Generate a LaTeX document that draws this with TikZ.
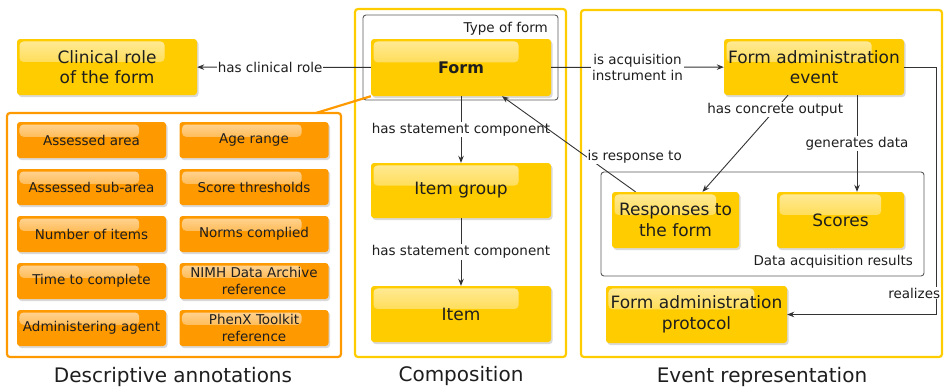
\documentclass[tikz,border=0pt]{standalone}
\usepackage{fontspec}
\setmainfont{DejaVu Sans}
\usepackage{xcolor}
\usepackage{tikz}
\usetikzlibrary{arrows.meta,shadows,calc,fadings}
\definecolor{formyellow}{HTML}{FFCC00}
\definecolor{annotorange}{HTML}{FF9900}
\definecolor{framegray}{HTML}{5A5A5A}
\definecolor{linkgray}{HTML}{333333}
\definecolor{textdark}{HTML}{1E1E1E}
\tikzset{gloss/.style={path picture={\fill[white,opacity=.6,path fading=south,rounded corners=4pt] ([shift={(2.5pt,-2.5pt)}]path picture bounding box.north west) rectangle ($(path picture bounding box.north west)!.82!(path picture bounding box.east)$);}}}

\begin{document}
\begin{tikzpicture}[x=1pt,y=-1pt,
	box/.style={rectangle,rounded corners=3pt,fill=formyellow,text=textdark,align=center,inner sep=2pt,
		font=\fontsize{17}{20.5}\selectfont,drop shadow={shadow xshift=1.5pt,shadow yshift=-2pt,opacity=.3},gloss},
	annot/.style={box,fill=annotorange,minimum width=149,minimum height=36,font=\fontsize{13.5}{16.5}\selectfont},
	panel/.style={draw=formyellow,line width=2.2pt,rounded corners=3pt},
	group/.style={draw=framegray,line width=.9pt,rounded corners=3pt},
	lbl/.style={fill=white,inner sep=1pt,text=textdark,align=center,font=\fontsize{13.5}{16}\selectfont},
	title/.style={text=textdark,font=\fontsize{20}{24}\selectfont},
	link/.style={draw=linkgray,line width=.9pt,-{Stealth[length=7pt,width=5.5pt]}}]
	\useasboundingbox (0,0) rectangle (944,386);
	% frames
	\draw[panel,draw=annotorange] (7,113) rectangle (341,357);
	\draw[panel] (355,9) rectangle (566,357);
	\draw[group] (363,15) rectangle (558,100);
	\draw[panel] (581,10) rectangle (942,357);
	\draw[group] (601,172) rectangle (924,276);
	\coordinate (descjoin) at (316,113);
	%
	\node[lbl,fill=none,anchor=east] (typeform) at (549,29) {Type of form};
	\node[lbl,fill=none,anchor=east] (dataresults) at (914,262) {Data acquisition results};
	\node[title] (desctitle) at (173,377) {Descriptive annotations};
	\node[title] (comptitle) at (461,376) {Composition};
	\node[title] (eventtitle) at (762,377) {Event representation};
	%
	\node[box,minimum width=180,minimum height=56] (clin) at (107,67) {Clinical role\\of the form};
	\node[box,minimum width=180,minimum height=57,font=\fontsize{16}{19}\selectfont\bfseries] (form) at (461,67.5) {Form};
	\node[box,minimum width=180,minimum height=55] (grp) at (461,190.5) {Item group};
	\node[box,minimum width=180,minimum height=56] (item) at (461,314) {Item};
	\node[box,minimum width=180,minimum height=56] (fae) at (814,67) {Form administration\\event};
	\node[box,minimum width=127,minimum height=56] (resp) at (675.5,220) {Responses to\\the form};
	\node[box,minimum width=127,minimum height=56] (scores) at (840.5,220) {Scores};
	\node[box,minimum width=181,minimum height=57] (proto) at (696.5,314.5) {Form administration\\protocol};
	%
	\node[annot] (area) at (91.5,140) {Assessed area};
	\node[annot] (subarea) at (91.5,187) {Assessed sub-area};
	\node[annot] (nitems) at (91.5,234) {Number of items};
	\node[annot] (time) at (91.5,281) {Time to complete};
	\node[annot] (agent) at (91.5,328) {Administering agent};
	\node[annot] (age) at (254,140) {Age range};
	\node[annot] (thresh) at (254,187) {Score thresholds};
	\node[annot] (norms) at (254,234) {Norms complied};
	\node[annot] (nimh) at (254,281) {NIMH Data Archive\\reference};
	\node[annot] (phenx) at (254,328) {PhenX Toolkit\\reference};
	%
	\draw[annotorange,line width=2.2pt] (descjoin) -- (form.south west);
	\draw [link] (form) -- node[lbl,pos=.58]{has clinical role} (clin);
	\draw [link] (form) -- node[lbl]{is acquisition\\instrument in} (fae);
	\draw [link] (form) -- node[lbl]{has statement component} (grp);
	\draw [link] (grp) -- node[lbl]{has statement component} (item);
	\draw [link] ([xshift=-26pt]fae.south) -- node[lbl,pos=.15]{has concrete output} ([xshift=27pt]resp.north);
	\draw [link] ([xshift=43pt]fae.south) -- node[lbl]{generates data} ([xshift=16.5pt]scores.north);
	\draw [link] ([xshift=-40pt]resp.north) -- node[lbl,pos=.37,anchor=west]{is response to} ([xshift=41pt]form.south);
	\draw [link] (fae.east) -- ++(32,0) |- node[lbl,pos=.457,xshift=-22pt]{realizes} (proto.east);
\end{tikzpicture}
\end{document}
